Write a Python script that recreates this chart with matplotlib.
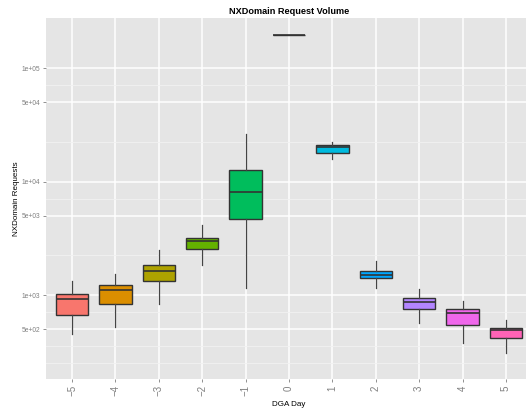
import matplotlib
matplotlib.use("Agg")
import matplotlib.pyplot as plt
import numpy as np

# ---- data ----
days = ["\u22125", "\u22124", "\u22123", "\u22122", "\u22121", "0", "1", "2", "3", "4", "5"]
whis_lo = [456, 526, 838, 1828, 1160, 195500, 15880, 1146, 570, 375, 310]
q1      = [667, 828, 1328, 2527, 4700, 195500, 17730, 1403, 757, 544, 415]
median  = [927, 1100, 1637, 3008, 8070, 195500, 20260, 1510, 862, 690, 489]
q3      = [1020, 1217, 1828, 3160, 12700, 195500, 21090, 1637, 941, 748, 512]
whis_hi = [1328, 1531, 2477, 4140, 26210, 195500, 22280, 1994, 1129, 891, 605]
fills = ["#F8766D", "#DB8E00", "#AEA200", "#64B200", "#00BD5C", "#00C1A7",
         "#00BADE", "#00A6FF", "#B385FF", "#EF67EB", "#FF63B6"]
y_breaks = [500, 1000, 5000, 10000, 50000, 100000]
y_labels = ["5e+02", "1e+03", "5e+03", "1e+04", "5e+04", "1e+05"]
y_minor = [250, 354, 707, 2236, 7071, 22361, 70711]

FONT = ["Liberation Sans", "DejaVu Sans"]
plt.rcParams["font.family"] = FONT

W, H = 526, 409
fig = plt.figure(figsize=(W / 100, H / 100), dpi=100)
left, right, top, bottom = 46, 532, 18, 379
ax = fig.add_axes([left / W, 1 - bottom / H, (right - left) / W, (bottom - top) / H])
ax.set_facecolor("#E5E5E5")

pos = np.arange(len(days))
stats = []
for i in range(len(days)):
    stats.append(dict(med=median[i], q1=q1[i], q3=q3[i],
                      whislo=whis_lo[i], whishi=whis_hi[i], fliers=[]))

bp = ax.bxp(stats, positions=pos, widths=0.75, patch_artist=True,
            showcaps=False, showfliers=False,
            boxprops=dict(edgecolor="#333333", linewidth=1.0),
            medianprops=dict(color="#333333", linewidth=1.2),
            whiskerprops=dict(color="#444444", linewidth=0.9))
for patch, c in zip(bp["boxes"], fills):
    patch.set_facecolor(c)
for art in bp["boxes"] + bp["medians"] + bp["whiskers"]:
    art.set_zorder(3)

ax.set_yscale("log")
ax.set_ylim(182, 276000)
ax.set_xlim(-0.6, len(days) - 1 + 0.6)

ax.set_yticks(y_breaks)
ax.set_yticklabels(y_labels)
ax.set_yticks(y_minor, minor=True)
ax.yaxis.set_minor_formatter(matplotlib.ticker.NullFormatter())
ax.set_xticks(pos)
ax.set_xticklabels(days, rotation=90)

ax.grid(which="major", axis="both", color="white", linewidth=1.1, zorder=0)
ax.grid(which="minor", axis="y", color="#F2F2F2", linewidth=0.6, zorder=0)
ax.set_axisbelow(True)

for s in ax.spines.values():
    s.set_visible(False)
ax.tick_params(axis="both", which="major", length=2.5, width=0.6, color="#7F7F7F",
               labelcolor="#7F7F7F")
ax.tick_params(axis="y", which="major", labelsize=4.8, pad=1.5)
ax.tick_params(axis="x", which="major", labelsize=7, pad=2)
ax.tick_params(axis="y", which="minor", length=0)

ax.set_title("NXDomain Request Volume", fontsize=6.6, fontweight="bold", pad=3)
ax.set_xlabel("DGA Day", fontsize=5.8, labelpad=3)
ax.set_ylabel("NXDomain Requests", fontsize=5.8, labelpad=1)

fig.savefig("out.png", dpi=100)
